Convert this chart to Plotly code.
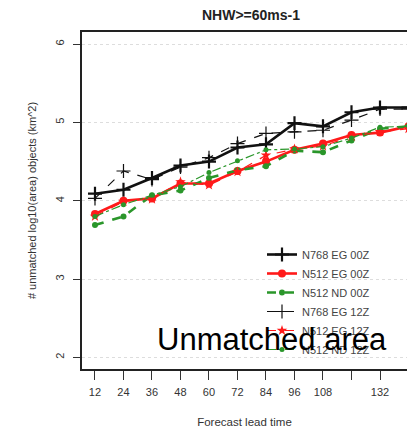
import plotly.graph_objects as go

lead_times = [12, 24, 36, 48, 60, 72, 84, 96, 108, 120, 132, 144]
tick_vals = [12, 24, 36, 48, 60, 72, 84, 96, 108, 120, 132, 144]
tick_text = ["12", "24", "36", "48", "60", "72", "84", "96", "108", "", "132", ""]
y_ticks = [2, 3, 4, 5, 6]

n768_eg_00z = [4.09, 4.14, 4.29, 4.45, 4.50, 4.68, 4.72, 4.99, 4.95, 5.13, 5.19, 5.19]
n512_eg_00z = [3.83, 4.00, 4.03, 4.22, 4.22, 4.38, 4.50, 4.65, 4.73, 4.84, 4.87, 4.95]
n512_nd_00z = [3.69, 3.80, 4.07, 4.13, 4.29, 4.39, 4.44, 4.64, 4.62, 4.77, 4.92, 4.95]
n768_eg_12z = [4.03, 4.38, 4.27, 4.43, 4.55, 4.73, 4.86, 4.88, 4.90, 5.03, 5.17, 5.17]
n512_eg_12z = [3.80, 3.99, 4.02, 4.24, 4.20, 4.37, 4.58, 4.66, 4.70, 4.82, 4.88, 4.92]
n512_nd_12z = [3.80, 3.95, 4.07, 4.18, 4.36, 4.51, 4.65, 4.66, 4.69, 4.80, 4.94, 4.95]

RED = "#ff1a1a"
GREEN = "#2a962a"
BLACK = "#111111"

series = [
    ("N768 EG 00Z", n768_eg_00z, BLACK, 2.6, "solid", "cross-thin", 10, 2.2),
    ("N512 EG 00Z", n512_eg_00z, RED, 2.6, "solid", "circle", 8, 0),
    ("N512 ND 00Z", n512_nd_00z, GREEN, 2.6, "dash", "circle", 6, 0),
    ("N768 EG 12Z", n768_eg_12z, BLACK, 1.2, "dash", "cross-thin", 10, 1.2),
    ("N512 EG 12Z", n512_eg_12z, RED, 1.2, "dash", "star", 8, 0),
    ("N512 ND 12Z", n512_nd_12z, GREEN, 1.2, "dashdot", "circle", 5, 0),
]

fig = go.Figure()
for name, vals, col, lw, dash, sym, msize, mlw in series:
    fig.add_trace(go.Scatter(
        x=lead_times, y=vals, name=name, mode="lines+markers",
        line=dict(color=col, width=lw, dash=dash),
        marker=dict(symbol=sym, size=msize, color=col,
                    line=dict(color=col, width=mlw)),
    ))

W, H = 407, 428
L, T, B = 82, 32, 59
fig.update_layout(
    width=W, height=H,
    margin=dict(l=L, r=0, t=T, b=B),
    paper_bgcolor="white", plot_bgcolor="white",
    font=dict(family="Liberation Sans, Arial, sans-serif", color="#333333"),
    showlegend=True,
    legend=dict(
        x=(262 - L) / (W - L), y=(H - B - 240) / (H - T - B),
        xanchor="left", yanchor="top",
        bgcolor="rgba(0,0,0,0)", borderwidth=0,
        font=dict(size=11, color="#444444"),
        itemwidth=30, tracegroupgap=0,
    ),
    xaxis=dict(
        range=[6.53, 143.37], tickmode="array", tickvals=tick_vals, ticktext=tick_text,
        showgrid=False, zeroline=False, automargin=False,
        showline=True, mirror=True, linecolor="#222222", linewidth=1.5,
        ticks="outside", ticklen=9, tickwidth=1.2, tickcolor="#333333",
        tickfont=dict(size=11, color="#333333"), ticklabelstandoff=3,
        title=dict(text="Forecast lead time", font=dict(size=11.5, color="#333333"), standoff=25),
    ),
    yaxis=dict(
        range=[1.851, 6.155], tickmode="array", tickvals=y_ticks,
        showgrid=True, gridcolor="#dddddd", griddash="dot", gridwidth=1,
        zeroline=False, automargin=False,
        showline=True, mirror=False, linecolor="#222222", linewidth=1.5,
        ticks="outside", ticklen=7, tickwidth=1.2, tickcolor="#333333",
        tickangle=-90, tickfont=dict(size=11, color="#333333"), ticklabelstandoff=5,
        title=dict(text="# unmatched log10(area) objects (km^2)",
                   font=dict(size=11, color="#333333"), standoff=15),
    ),
    annotations=[
        dict(text="<b>NHW>=60ms-1</b>", xref="paper", yref="paper",
             x=(251 - L) / (W - L), y=1 + (T - 15) / (H - T - B),
             xanchor="center", yanchor="middle", showarrow=False,
             font=dict(size=14, color="#222222")),
        dict(text="Unmatched area", xref="paper", yref="paper",
             x=(272 - L) / (W - L), y=(H - B - 339) / (H - T - B),
             xanchor="center", yanchor="middle", showarrow=False,
             font=dict(size=31, color="black")),
    ],
)

fig.write_html("out.html")
